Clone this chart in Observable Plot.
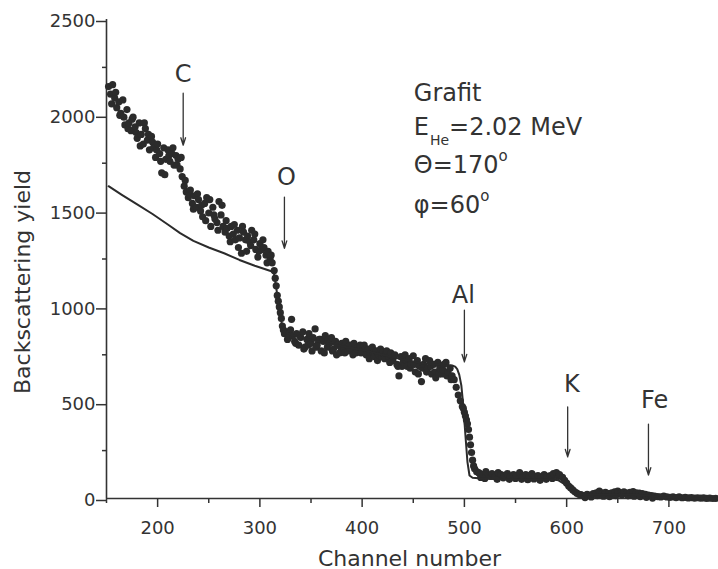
<!DOCTYPE html>
<html><head><meta charset="utf-8">
<script src="https://cdn.jsdelivr.net/npm/d3@7"></script>
<script src="https://cdn.jsdelivr.net/npm/@observablehq/plot@0.6"></script>
<style>
html,body{margin:0;padding:0;background:#fff;}
#chart{width:718px;height:569px;overflow:hidden;}
</style></head><body><div id="chart"></div>
<script>
// measured spectrum (dots)
const dotChannel = [152,154,155,156,158,159,160,162,163,164,166,167,168,170,171,172,174,175,176,178,179,180,182,183,184,186,187,188,190,191,192,194,195,196,198,199,200,202,203,204,206,207,208,210,211,212,214,215,216,218,219,220,222,223,224,226,227,228,230,231,232,234,235,236,238,239,240,242,243,244,246,247,248,250,251,252,254,255,256,258,259,260,262,263,264,266,267,268,270,271,272,274,275,276,278,279,280,282,283,284,286,287,288,290,291,292,294,295,296,298,299,300,302,303,304,306,307,308,310,311,312,
314,315,316,317,318,319,320,321,322,323,324,326,327,328,330,331,332,334,335,336,338,339,340,342,343,344,346,347,348,350,351,352,354,355,356,358,359,360,362,363,364,366,367,368,370,371,372,374,375,376,378,379,380,382,383,384,386,387,388,390,391,392,394,395,396,398,399,400,402,403,404,406,407,408,410,411,412,414,415,416,418,419,420,422,423,424,426,427,428,430,431,432,434,435,436,438,439,440,442,443,444,446,447,448,450,451,452,454,455,456,458,459,460,462,463,464,466,467,468,470,471,472,474,475,476,478,479,480,482,483,484,486,487,488,490,492,494,496,498,
499,500,501,502,503,504,505,506,507,508,509,510,512,514,515,516,518,520,521,524,526,527,530,532,533,536,538,539,542,544,545,548,550,551,554,556,557,560,562,563,566,568,569,572,574,575,578,580,581,584,586,587,590,592,593,596,598,600,602,604,606,608,610,612,614,617,618,620,623,624,626,629,630,632,635,636,638,641,642,644,647,648,650,653,654,656,659,660,662,665,666,668,671,672,674,677,678,680,683,684,686,689,692,695,698,701,704,707,710,713,716,719,722,725,728,731,734,737,740,743,746];
const dotYield = [2150,2110,2060,2160,2090,2120,2040,2070,2000,2010,2080,1990,1950,2030,1930,1960,1920,1980,1990,1940,1910,1880,1960,1840,1900,1850,1960,1930,1870,1900,1820,1890,1860,1830,1780,1820,1850,1800,1760,1700,1830,1690,1770,1820,1790,1760,1800,1830,1740,1790,1740,1770,1720,1780,1680,1630,1660,1600,1570,1590,1610,1540,1510,1580,1520,1590,1560,1500,1530,1470,1540,1450,1570,1490,1560,1420,1520,1480,1460,1440,1400,1550,1480,1530,1420,1390,1450,1410,1370,1340,1420,1380,1430,1350,1400,1310,1360,1280,1420,1390,1350,1290,1370,1340,1320,1400,1350,1380,1300,1260,1290,1330,1300,1350,1310,1270,1230,1290,1250,1270,1230,
1190,1150,1110,1060,1030,1000,970,940,900,880,860,870,830,840,880,935,850,820,810,860,800,850,840,870,780,790,830,800,860,810,770,840,885,790,800,830,830,770,820,760,850,790,830,810,840,770,780,820,750,800,760,790,810,790,760,820,770,790,800,780,750,810,760,780,790,800,760,770,800,780,750,780,730,760,790,760,740,770,720,750,780,740,760,730,760,770,740,710,760,720,740,750,700,690,640,740,690,710,750,720,690,730,680,700,745,700,660,720,650,690,610,680,700,730,660,680,720,690,650,700,660,630,710,650,680,650,670,700,710,640,660,680,620,640,620,580,540,510,480,
470,450,430,410,390,360,320,280,240,200,170,155,140,135,130,110,125,105,140,120,115,130,115,100,135,125,108,120,130,100,115,125,105,120,135,100,110,125,98,120,130,102,115,120,95,110,125,100,115,120,105,130,135,115,125,110,95,80,65,55,45,35,28,22,20,15,5,22,18,8,25,30,15,38,28,12,32,25,10,30,35,15,38,30,18,35,28,14,32,36,12,30,28,10,25,22,6,18,15,2,12,10,8,12,8,6,9,5,8,4,6,3,5,2,4,2,3,1,2,0,1];

// simulated spectrum (line)
const fitChannel = [152,165,180,195,210,222,235,250,265,280,295,312,314,316,318,320,322,325,330,340,360,380,400,420,440,460,475,488,491,493,495,497,499,501,503,505,508,520,560,585,592,598,604,610,620,650,670,680,690,700,720,748];
const fitYield = [1630,1585,1535,1485,1430,1385,1345,1310,1280,1245,1215,1185,1170,1100,1020,950,900,870,855,840,815,795,775,750,725,705,698,694,688,675,645,590,480,330,190,120,108,103,98,100,95,75,45,25,20,20,18,15,8,4,2,0];

// element edges
const elements = ["C","O","Al","K","Fe"];
const edgeChannel = [225,324,500,601,680];
const arrowTop = [2115,1573,983,478,388];
const arrowTip = [1844,1306,713,217,122];
const labelChannel = [225,326,499,605,686];
const labelYield = [2174,1635,1019,555,472];

// axes
const xTicks = [200,300,400,500,600,700];
const xMinorTicks = [150,250,350,450,550,650];
const yTicks = [0,500,1000,1500,2000,2500];
const yMinorTicks = [250,750,1250,1750,2250];
const xTitle = "Channel number";
const yTitle = "Backscattering yield";

// info block
const infoChannel = 451;
const infoYield = [2073,1896,1698,1489];

const dots = dotChannel.map((c,i)=>({c, v: dotYield[i]}));
const fit = fitChannel.map((c,i)=>({c, v: fitYield[i]}));
const edges = elements.map((e,i)=>({e, c: edgeChannel[i], top: arrowTop[i], tip: arrowTip[i], lc: labelChannel[i], lv: labelYield[i]}));

const ink = "#2b2b2b";
const plot = Plot.plot({
  width: 718, height: 569,
  marginLeft: 106, marginRight: 0, marginTop: 19, marginBottom: 71,
  style: {fontFamily: "'DejaVu Sans', sans-serif", fontSize: "18px", color: "#333", background: "#fff"},
  x: {domain: [150, 748.5]},
  y: {domain: [0, 2500]},
  marks: [
    Plot.axisX(xTicks, {tickSize: 9, tickPadding: 14, fontSize: 18, strokeWidth: 1.5, tickFormat: d => String(d), label: null}),
    Plot.axisX(xMinorTicks, {tickSize: 5, strokeWidth: 1.5, tickFormat: () => "", label: null}),
    Plot.axisY(yTicks, {tickSize: 10, tickPadding: 1, fontSize: 18, dy: 2, strokeWidth: 1.5, tickFormat: d => String(d), label: null}),
    Plot.axisY(yMinorTicks, {tickSize: 4, strokeWidth: 1.5, tickFormat: () => "", label: null}),
    Plot.ruleY([0], {stroke: "#333", strokeWidth: 1.6}),
    Plot.ruleX([150], {y1: 0, y2: 2500, stroke: "#333", strokeWidth: 1.6}),
    Plot.dot(dots, {x: "c", y: "v", r: 3.6, fill: ink, stroke: "none"}),
    Plot.line(fit, {x: "c", y: "v", stroke: ink, strokeWidth: 2}),
    Plot.arrow(edges, {x1: "c", y1: "top", x2: "c", y2: "tip", stroke: "#333", strokeWidth: 1.3, headLength: 9, headAngle: 35}),
    Plot.text(edges, {x: "lc", y: "lv", text: "e", fontSize: 24, fill: "#333", textAnchor: "middle", lineAnchor: "bottom"}),
    Plot.text([xTitle], {text: d => d, frameAnchor: "bottom", dy: 67, dx: -3, fontSize: 22, fill: "#333", textAnchor: "middle", lineAnchor: "bottom"}),
    Plot.text([yTitle], {text: d => d, frameAnchor: "left", rotate: -90, dx: -77, dy: 23, fontSize: 22, fill: "#333", textAnchor: "middle", lineAnchor: "bottom"})
  ]
});

// info block with sub/superscripts, placed through the plot's scales
const sx = plot.scale("x"), sy = plot.scale("y");
const svg = d3.select(plot.tagName.toLowerCase() === "svg" ? plot : plot.querySelector("svg"));
const g = svg.append("g").attr("fill", "#333").attr("text-anchor", "start").attr("font-family", "'DejaVu Sans', sans-serif").attr("font-size", 24);
const px = sx.apply(infoChannel);
g.append("text").attr("x", px).attr("y", sy.apply(infoYield[0])).text("Grafit");
const t2 = g.append("text").attr("x", px).attr("y", sy.apply(infoYield[1]));
t2.append("tspan").text("E");
t2.append("tspan").attr("font-size", 14).attr("dy", 10).attr("dx", 1).text("He");
t2.append("tspan").attr("dy", -10).text("=2.02 MeV");
const t3 = g.append("text").attr("x", px).attr("y", sy.apply(infoYield[2]));
t3.append("tspan").text("\u0398=170");
t3.append("tspan").attr("font-size", 15).attr("dy", -12).text("o");
const t4 = g.append("text").attr("x", px).attr("y", sy.apply(infoYield[3]));
t4.append("tspan").text("\u03C6=60");
t4.append("tspan").attr("font-size", 15).attr("dy", -12).text("o");

document.getElementById("chart").append(plot);
</script></body></html>
